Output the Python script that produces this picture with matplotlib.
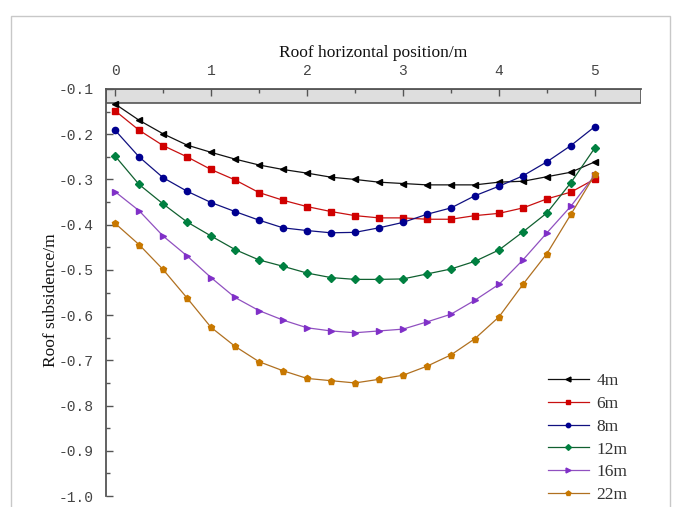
import matplotlib
matplotlib.use("Agg")
import matplotlib.pyplot as plt
from matplotlib.patches import Rectangle
from matplotlib.ticker import MultipleLocator

# ---- data ----
x_pos = [0, 0.25, 0.5, 0.75, 1.0, 1.25, 1.5, 1.75, 2.0, 2.25, 2.5,
         2.75, 3.0, 3.25, 3.5, 3.75, 4.0, 4.25, 4.5, 4.75, 5.0]

s_4m = [-0.133, -0.169, -0.199, -0.224, -0.240, -0.255, -0.268, -0.278, -0.286, -0.295, -0.300,
        -0.306, -0.309, -0.312, -0.312, -0.312, -0.306, -0.304, -0.294, -0.284, -0.261]
s_6m = [-0.148, -0.191, -0.225, -0.250, -0.278, -0.301, -0.329, -0.346, -0.360, -0.371, -0.380,
        -0.385, -0.385, -0.388, -0.388, -0.380, -0.375, -0.363, -0.343, -0.328, -0.299]
s_8m = [-0.191, -0.250, -0.296, -0.326, -0.351, -0.371, -0.390, -0.407, -0.413, -0.418, -0.417,
        -0.407, -0.395, -0.377, -0.363, -0.336, -0.315, -0.292, -0.261, -0.225, -0.183]
s_12m = [-0.248, -0.311, -0.354, -0.394, -0.425, -0.455, -0.478, -0.492, -0.507, -0.517, -0.521,
         -0.521, -0.520, -0.509, -0.498, -0.481, -0.456, -0.416, -0.374, -0.307, -0.230]
s_16m = [-0.327, -0.369, -0.425, -0.469, -0.517, -0.561, -0.590, -0.611, -0.628, -0.635, -0.639,
         -0.635, -0.631, -0.615, -0.598, -0.567, -0.532, -0.478, -0.418, -0.359, -0.290]
s_22m = [-0.397, -0.444, -0.499, -0.562, -0.627, -0.669, -0.703, -0.723, -0.740, -0.745, -0.750,
         -0.742, -0.733, -0.713, -0.688, -0.652, -0.604, -0.532, -0.464, -0.377, -0.289]

series_labels = ["4m", "6m", "8m", "12m", "16m", "22m"]
series_values = [s_4m, s_6m, s_8m, s_12m, s_16m, s_22m]

x_ticks = [0, 1, 2, 3, 4, 5]
x_ticklabels = ["0", "1", "2", "3", "4", "5"]
y_ticks = [-0.1, -0.2, -0.3, -0.4, -0.5, -0.6, -0.7, -0.8, -0.9, -1.0]
y_ticklabels = ["-0.1", "-0.2", "-0.3", "-0.4", "-0.5", "-0.6", "-0.7", "-0.8", "-0.9", "-1.0"]

x_title = "Roof horizontal position/m"
y_title = "Roof subsidence/m"

# ---- styles ----
line_colors = ["#111111", "#c81010", "#101080", "#106030", "#9050c0", "#b07020"]
marker_colors = ["#000000", "#d00000", "#000090", "#008040", "#8030c8", "#c87800"]
markers = ["<", "s", "o", "D", ">", "p"]
msizes = [5.0, 4.5, 4.5, 4.2, 5.0, 5.0]

W, H = 675, 507
fig = plt.figure(figsize=(W / 100, H / 100), dpi=100)
fig.patch.set_facecolor("white")

# light frame around figure
fig.patches.append(Rectangle((11 / W, -0.05), (670 - 11) / W, 1.05 - 16 / H,
                             transform=fig.transFigure, fill=False,
                             edgecolor="#c8c8c8", linewidth=1.0))

ax_l, ax_r, ax_t, ax_b = 106, 641, 89, 496
ax = fig.add_axes([ax_l / W, 1 - ax_b / H, (ax_r - ax_l) / W, (ax_b - ax_t) / H])

xmin, xmax = -0.094, 5.48
ax.set_xlim(xmin, xmax)
ax.set_ylim(-1.0, -0.1)

# gray bar at top
ax.add_patch(Rectangle((xmin, -0.13), xmax - xmin, 0.03, facecolor="#dedede",
                       edgecolor="#555555", linewidth=1.2, zorder=1))

for lab, vals, lc, mc, mk, ms in zip(series_labels, series_values, line_colors,
                                      marker_colors, markers, msizes):
    ax.plot(x_pos, vals, color=lc, linewidth=0.9, marker=mk, markersize=ms,
            markerfacecolor=mc, markeredgecolor=mc, label=lab, zorder=3)

for s in ["right", "bottom"]:
    ax.spines[s].set_visible(False)
for s in ["top", "left"]:
    ax.spines[s].set_color("#555555")
    ax.spines[s].set_linewidth(1.3)

ax.xaxis.tick_top()
ax.set_xticks(x_ticks)
ax.set_xticklabels(x_ticklabels)
ax.xaxis.set_minor_locator(MultipleLocator(0.5))
ax.set_yticks(y_ticks)
ax.set_yticklabels(y_ticklabels)
ax.yaxis.set_minor_locator(MultipleLocator(0.05))

for t in ax.get_xticklabels() + ax.get_yticklabels():
    t.set_fontfamily("Liberation Mono")
    t.set_fontsize(10.5)
ax.tick_params(axis="both", which="major", direction="in", length=5, width=1.0,
               color="#555555", labelcolor="#444444", pad=8)
ax.tick_params(axis="y", which="major", pad=9)
ax.tick_params(axis="both", which="minor", direction="in", length=3, width=1.0,
               color="#555555")
ax.tick_params(axis="x", which="both", top=True, bottom=False)

ax.set_xlabel(x_title, fontfamily="Liberation Serif", fontsize=12.5, color="#111111",
              labelpad=5)
ax.xaxis.set_label_position("top")
ax.set_ylabel(y_title, fontfamily="Liberation Serif", fontsize=12.5, color="#111111")
ax.yaxis.set_label_coords(-0.088, 0.48)

leg = ax.legend(loc="lower left", bbox_to_anchor=(548 / W, 1 - 503 / H),
                bbox_transform=fig.transFigure, frameon=False, borderpad=0,
                borderaxespad=0, handlelength=2.35, handletextpad=0.45,
                labelspacing=0.38, prop={"family": "Liberation Serif", "size": 12.5},
                markerscale=0.7)
for t in leg.get_texts():
    t.set_color("#333333")

fig.savefig("out.png", dpi=100, facecolor="white")
